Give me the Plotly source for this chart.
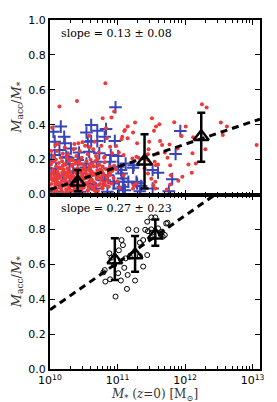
import numpy as np
import plotly.graph_objects as go
from plotly.subplots import make_subplots

# ---------------- data (log10 stellar mass, accreted fraction) ----------------
red_logm = [10.82, 10.40, 10.14, 10.95, 10.03, 10.78, 10.91, 11.51, 11.62, 11.57,
            11.26, 11.15, 11.10, 11.23, 11.54, 11.07, 11.15, 10.83, 10.58, 12.25,
            12.32, 11.84, 12.01, 12.53, 12.62, 12.56, 13.06, 11.95, 11.63, 11.66,
            11.77, 11.89, 11.47, 11.46, 11.70, 11.45, 11.55, 11.74, 11.78, 11.60,
            12.11, 12.05, 12.16, 12.10, 11.96, 11.79, 11.78, 11.56, 11.73, 12.30,
            12.12, 11.90, 11.11, 11.06, 10.89, 10.98, 10.92, 11.02, 10.81, 11.28,
            11.31, 11.45, 11.60, 11.57, 10.89, 10.95, 10.79, 10.84, 10.88, 10.91,
            11.03, 11.28, 11.23, 11.53, 11.45, 11.50, 11.40, 10.84, 10.08, 10.42,
            10.66, 11.29, 11.09, 11.22, 11.09, 11.24, 11.56,
            # dense low-mass cloud
            10.05, 10.10, 10.16, 10.22, 10.27, 10.31, 10.35, 10.39, 10.44, 10.47,
            10.52, 10.56, 10.60, 10.64, 10.68, 10.72, 10.76, 10.80, 10.12, 10.48,
            10.58, 10.36, 10.02, 10.70, 10.25,
            10.01, 10.04, 10.06, 10.09, 10.11, 10.13, 10.15, 10.18, 10.20, 10.23,
            10.26, 10.28, 10.30, 10.33, 10.36, 10.38, 10.41, 10.43, 10.46, 10.49,
            10.51, 10.54, 10.57, 10.59, 10.62, 10.65, 10.67, 10.70, 10.73, 10.75,
            10.78, 10.08, 10.19, 10.34, 10.52,
            10.01, 10.02, 10.03, 10.04, 10.05, 10.07, 10.08, 10.09, 10.10, 10.11,
            10.12, 10.14, 10.15, 10.16, 10.18, 10.19, 10.20, 10.21, 10.23, 10.24,
            10.25, 10.27, 10.28, 10.29, 10.31, 10.32, 10.33, 10.35, 10.36, 10.37,
            10.39, 10.40, 10.42, 10.44, 10.45, 10.47, 10.48, 10.50, 10.51, 10.53,
            10.54, 10.56, 10.57, 10.59, 10.60, 10.62, 10.63, 10.65, 10.66, 10.68,
            10.69, 10.71, 10.72, 10.74, 10.75, 10.77, 10.78, 10.80, 10.06, 10.13,
            10.26, 10.41, 10.55, 10.64, 10.22, 10.03, 10.17, 10.30, 10.46, 10.58,
            10.02, 10.05, 10.08, 10.11, 10.14, 10.17, 10.20, 10.23, 10.26, 10.29,
            10.32, 10.35, 10.38, 10.41, 10.44, 10.47, 10.50, 10.53, 10.56, 10.59,
            10.62, 10.65, 10.68, 10.71, 10.74, 10.77, 10.80, 10.83, 10.86, 10.89,
            10.03, 10.06, 10.09, 10.12, 10.15, 10.18, 10.21, 10.24, 10.27, 10.30,
            10.33, 10.36, 10.39, 10.42, 10.45, 10.48, 10.51, 10.54, 10.57, 10.60,
            10.63, 10.66, 10.69, 10.72, 10.75, 10.78, 10.81, 10.84, 10.87, 10.92,
            10.04, 10.10, 10.16, 10.22, 10.28, 10.34, 10.40, 10.46, 10.52, 10.58,
            10.64, 10.70, 10.76, 10.82, 10.88, 10.94, 10.98, 11.00, 10.07, 10.19]
red_frac = [0.638, 0.536, 0.504, 0.475, 0.383, 0.437, 0.441, 0.437, 0.402, 0.389,
            0.412, 0.389, 0.364, 0.356, 0.366, 0.331, 0.322, 0.379, 0.337, 0.517,
            0.498, 0.414, 0.389, 0.412, 0.389, 0.341, 0.283, 0.335, 0.306, 0.283,
            0.287, 0.264, 0.303, 0.259, 0.241, 0.197, 0.188, 0.211, 0.168, 0.172,
            0.236, 0.172, 0.178, 0.125, 0.102, 0.111, 0.057, 0.073, 0.029, 0.259,
            0.328, 0.079, 0.370, 0.316, 0.274, 0.278, 0.236, 0.240, 0.217, 0.217,
            0.210, 0.230, 0.236, 0.168, 0.159, 0.165, 0.121, 0.092, 0.110, 0.063,
            0.040, 0.063, 0.034, 0.053, 0.120, 0.090, 0.150, 0.322, 0.283, 0.293,
            0.303, 0.293, 0.226, 0.207, 0.111, 0.053, 0.034,
            0.22, 0.25, 0.21, 0.27, 0.23, 0.20, 0.26, 0.22, 0.25, 0.21,
            0.28, 0.23, 0.20, 0.26, 0.22, 0.24, 0.28, 0.21, 0.29, 0.30,
            0.27, 0.29, 0.25, 0.20, 0.21,
            0.17, 0.14, 0.19, 0.16, 0.13, 0.18, 0.15, 0.19, 0.14, 0.17,
            0.15, 0.19, 0.13, 0.17, 0.14, 0.18, 0.15, 0.19, 0.13, 0.17,
            0.15, 0.19, 0.14, 0.17, 0.13, 0.16, 0.19, 0.14, 0.17, 0.13,
            0.16, 0.20, 0.165, 0.195, 0.135,
            0.10, 0.06, 0.12, 0.03, 0.08, 0.11, 0.05, 0.09, 0.02, 0.07,
            0.12, 0.04, 0.10, 0.06, 0.08, 0.01, 0.11, 0.05, 0.09, 0.03,
            0.12, 0.07, 0.10, 0.04, 0.09, 0.02, 0.11, 0.06, 0.10, 0.03,
            0.08, 0.12, 0.05, 0.10, 0.02, 0.07, 0.11, 0.04, 0.09, 0.12,
            0.06, 0.02, 0.10, 0.05, 0.08, 0.11, 0.03, 0.07, 0.12, 0.05,
            0.09, 0.02, 0.11, 0.06, 0.09, 0.04, 0.11, 0.07, 0.015, 0.095,
            0.055, 0.085, 0.115, 0.045, 0.125, 0.085, 0.025, 0.125, 0.045, 0.075,
            0.035, 0.135, 0.065, 0.105, 0.155, 0.045, 0.145, 0.075, 0.105, 0.015,
            0.165, 0.045, 0.125, 0.065, 0.175, 0.035, 0.145, 0.095, 0.025, 0.155,
            0.085, 0.115, 0.015, 0.165, 0.095, 0.135, 0.055, 0.145, 0.075, 0.125,
            0.185, 0.095, 0.035, 0.155, 0.065, 0.125, 0.175, 0.015, 0.135, 0.105,
            0.055, 0.145, 0.185, 0.035, 0.125, 0.095, 0.165, 0.065, 0.045, 0.125,
            0.175, 0.025, 0.105, 0.055, 0.145, 0.035, 0.185, 0.105, 0.045, 0.135,
            0.125, 0.085, 0.045, 0.115, 0.035, 0.085, 0.125, 0.025, 0.065, 0.105,
            0.035, 0.125, 0.085, 0.055, 0.135, 0.095, 0.145, 0.075, 0.195, 0.235]

blue_logm = [10.97, 10.16, 10.05, 10.21, 10.61, 10.54, 10.70, 10.61, 10.70, 10.83,
             10.81, 10.96, 10.07, 10.27, 10.43, 10.29, 10.54, 10.69, 10.89, 11.01,
             10.86, 11.08, 11.28, 11.33, 11.11, 10.94, 11.93, 11.86, 11.52, 11.60,
             11.81, 11.52, 11.76, 10.07, 10.22, 10.14, 10.31, 10.02, 10.24, 10.41,
             10.09, 10.02, 10.19, 10.34, 10.17, 10.29, 10.07, 10.44, 10.49, 10.56,
             10.58, 10.73, 10.90, 10.53, 10.88, 11.05, 10.61, 10.78, 10.95, 11.02,
             10.68, 10.85, 11.12, 11.24, 11.09, 11.29, 11.01, 11.23, 11.06, 11.16,
             11.08, 11.35, 10.81, 10.40, 10.60]
blue_frac = [0.500, 0.389, 0.360, 0.331, 0.398, 0.355, 0.366, 0.306, 0.306, 0.375,
             0.331, 0.306, 0.226, 0.211, 0.240, 0.172, 0.178, 0.188, 0.188, 0.159,
             0.111, 0.092, 0.073, 0.019, 0.025, 0.063, 0.364, 0.232, 0.140, 0.125,
             0.088, 0.034, 0.019, 0.303, 0.293, 0.255, 0.264, 0.200, 0.217, 0.197,
             0.149, 0.121, 0.111, 0.130, 0.053, 0.073, 0.016, 0.016, 0.092, 0.303,
             0.245, 0.236, 0.226, 0.155, 0.149, 0.140, 0.111, 0.082, 0.073, 0.034,
             0.034, 0.016, 0.178, 0.168, 0.073, 0.063, 0.220, 0.153, 0.121, 0.073,
             0.044, 0.048, 0.082, 0.050, 0.060]

top_bin_logm = [10.41, 11.40, 12.24]
top_bin_frac = [0.070, 0.190, 0.331]
top_bin_err_hi = [0.070, 0.155, 0.138]
top_bin_err_lo = [0.051, 0.156, 0.143]
top_slope, top_intercept = 0.13, 0.028   # frac = intercept + slope*(log M - 10)

bot_logm = [11.16, 11.28, 11.41, 11.06, 11.08, 10.88, 10.91, 10.81, 10.79, 10.82,
            10.89, 11.05, 11.15, 11.26, 11.14, 10.97, 11.12, 11.18, 11.33, 11.44,
            11.38, 11.33, 11.44, 11.50, 11.56, 11.45, 11.51, 11.66, 11.70, 11.72,
            11.67, 11.64, 11.60, 11.50, 11.38, 10.95, 11.01, 11.74, 11.02, 11.10]
bot_frac = [0.800, 0.796, 0.798, 0.739, 0.710, 0.663, 0.638, 0.567, 0.554, 0.501,
            0.514, 0.507, 0.539, 0.507, 0.459, 0.415, 0.634, 0.644, 0.648, 0.653,
            0.587, 0.724, 0.844, 0.869, 0.869, 0.790, 0.781, 0.787, 0.768, 0.834,
            0.758, 0.770, 0.806, 0.800, 0.739, 0.596, 0.549, 0.838, 0.680, 0.580]

bot_bin_logm = [10.96, 11.26, 11.56]
bot_bin_frac = [0.625, 0.653, 0.767]
bot_bin_err_hi = [0.124, 0.109, 0.090]
bot_bin_err_lo = [0.115, 0.095, 0.060]
bot_slope, bot_intercept = 0.27, 0.339

x_ticks = [1e10, 1e11, 1e12, 1e13]
x_ticktext = ["10<sup>10</sup>", "10<sup>11</sup>", "10<sup>12</sup>", "10<sup>13</sup>"]
y_ticks_top = [0.0, 0.2, 0.4, 0.6, 0.8, 1.0]
y_ticks_bot = [0.0, 0.2, 0.4, 0.6, 0.8]

# ---------------- figure ----------------
LOGX_RANGE = [10.0, 13.11]
fit_logm = np.linspace(LOGX_RANGE[0], LOGX_RANGE[1], 60)

fig = make_subplots(rows=2, cols=1, shared_xaxes=True, vertical_spacing=0)

RED = "#ec3a3a"
BLUE = "#3944b8"

fig.add_trace(go.Scatter(x=10 ** np.array(blue_logm), y=blue_frac, mode="markers",
                         marker=dict(symbol="cross-thin", size=9, color=BLUE,
                                     line=dict(color=BLUE, width=2)),
                         showlegend=False), row=1, col=1)
fig.add_trace(go.Scatter(x=10 ** np.array(red_logm), y=red_frac, mode="markers",
                         marker=dict(color=RED, size=4, line=dict(width=0)),
                         showlegend=False), row=1, col=1)
fig.add_trace(go.Scatter(x=10 ** fit_logm, y=top_intercept + top_slope * (fit_logm - 10),
                         mode="lines", line=dict(color="black", width=3, dash="7px,5px"),
                         showlegend=False), row=1, col=1)
fig.add_trace(go.Scatter(x=10 ** np.array(top_bin_logm), y=top_bin_frac, mode="markers",
                         marker=dict(symbol="triangle-up-open", size=13, color="black",
                                     line=dict(color="black", width=2.5)),
                         error_y=dict(type="data", array=top_bin_err_hi,
                                      arrayminus=top_bin_err_lo, color="black",
                                      thickness=2.5, width=4),
                         showlegend=False), row=1, col=1)

fig.add_trace(go.Scatter(x=10 ** fit_logm, y=bot_intercept + bot_slope * (fit_logm - 10),
                         mode="lines", line=dict(color="black", width=3, dash="7px,5px"),
                         showlegend=False), row=2, col=1)
fig.add_trace(go.Scatter(x=10 ** np.array(bot_logm), y=bot_frac, mode="markers",
                         marker=dict(symbol="circle-open", size=5, color="black",
                                     line=dict(color="black", width=1)),
                         showlegend=False), row=2, col=1)
fig.add_trace(go.Scatter(x=10 ** np.array(bot_bin_logm), y=bot_bin_frac, mode="markers",
                         marker=dict(symbol="triangle-up-open", size=13, color="black",
                                     line=dict(color="black", width=2.5)),
                         error_y=dict(type="data", array=bot_bin_err_hi,
                                      arrayminus=bot_bin_err_lo, color="black",
                                      thickness=2.5, width=4),
                         showlegend=False), row=2, col=1)

minor_vals = [m * 10 ** e for e in range(10, 13) for m in range(2, 10)]
tickfont = dict(family="DejaVu Sans", size=11, color="black")
serif = "DejaVu Serif"

xcommon = dict(type="log", range=LOGX_RANGE, tickvals=x_ticks, ticktext=x_ticktext,
               ticks="inside", ticklen=5, tickwidth=1, tickcolor="black",
               showline=True, linewidth=2, linecolor="black", mirror="ticks",
               showgrid=False, zeroline=False, tickfont=tickfont, automargin=False,
               minor=dict(tickvals=minor_vals, ticks="inside", ticklen=3,
                          tickwidth=1, tickcolor="black", showgrid=False))
fig.update_xaxes(**xcommon, showticklabels=False, row=1, col=1)
fig.update_xaxes(**xcommon, showticklabels=True, row=2, col=1,
                 title=dict(text="<i>M</i><sub>*</sub> (<i>z</i>=0) [M<sub>⊙</sub>]",
                            font=dict(family=serif, size=12, color="#333"), standoff=0))

ycommon = dict(range=[0, 1], ticks="inside", ticklen=5, tickwidth=1, tickcolor="black",
               showline=True, linewidth=2, linecolor="black", mirror="ticks",
               showgrid=False, zeroline=False, tickfont=tickfont, automargin=False)
ytitle = "<i>M</i><sub>acc</sub>/<i>M</i><sub>*</sub>"
fig.update_yaxes(**ycommon, tickvals=y_ticks_top, tickformat=".1f",
                 title=dict(text=ytitle, font=dict(family=serif, size=13, color="#333"),
                            standoff=4), row=1, col=1)
fig.update_yaxes(**ycommon, tickvals=y_ticks_bot, tickformat=".1f",
                 title=dict(text=ytitle, font=dict(family=serif, size=13, color="#333"),
                            standoff=4), row=2, col=1)

fig.add_annotation(text="slope = 0.13 ± 0.08", xref="x domain", yref="y domain",
                   x=0.045, y=0.92, xanchor="left", yanchor="middle", showarrow=False,
                   font=dict(family=serif, size=11, color="black"))
fig.add_annotation(text="slope = 0.27 ± 0.23", xref="x2 domain", yref="y2 domain",
                   x=0.045, y=0.92, xanchor="left", yanchor="middle", showarrow=False,
                   font=dict(family=serif, size=11, color="black"))

fig.update_layout(width=277, height=402, margin=dict(l=42, r=25, t=12, b=41),
                  paper_bgcolor="white", plot_bgcolor="white")

fig.write_html("out.html")
